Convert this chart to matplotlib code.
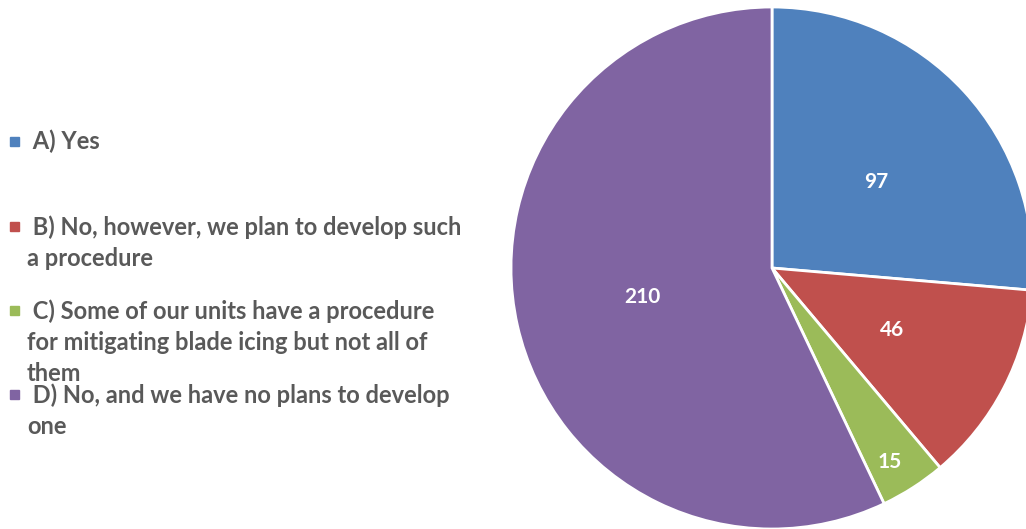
import matplotlib.pyplot as plt
from matplotlib.patches import Rectangle
import numpy as np

labels = [" A) Yes",
          " B) No, however, we plan to develop such\na procedure",
          " C) Some of our units have a procedure\nfor mitigating blade icing but not all of\nthem",
          " D) No, and we have no plans to develop\none"]
counts = [97, 46, 15, 210]
colors = ["#4F81BD", "#C0504D", "#9BBB59", "#8064A2"]

plt.rcParams['font.family'] = ['Lato', 'DejaVu Sans']

fig = plt.figure(figsize=(10.26, 5.29), dpi=100)
W, H = 1026, 529
cx, cy, r = 772, 268, 261
ax = fig.add_axes([(cx - r) / W, (H - cy - r) / H, 2 * r / W, 2 * r / H])

wedges, _ = ax.pie(counts, colors=colors, startangle=90, counterclock=False,
                   radius=1, wedgeprops=dict(edgecolor="white", linewidth=2))
ax.set_xlim(-1, 1)
ax.set_ylim(-1, 1)
ax.axis("off")

# label placement: radial distance and angle shift per wedge (degrees)
label_pos = [(0.52, -3), (0.52, 0), (0.87, -1.5), (0.51, 0)]
for w, n, (d, shift) in zip(wedges, counts, label_pos):
    ang = np.deg2rad((w.theta1 + w.theta2) / 2 + shift)
    ax.text(d * np.cos(ang), d * np.sin(ang), str(n), color="white",
            fontsize=15, fontweight="bold", ha="center", va="center")

# legend drawn by hand
entry_y = [142, 227, 311, 395]
for lab, col, y in zip(labels, colors, entry_y):
    fig.patches.append(Rectangle((10 / W, 1 - (y + 4) / H), 9 / W, 9 / H,
                                 transform=fig.transFigure, color=col))
    fig.text(27 / W, 1 - (y - 12) / H, lab, color="#595959", fontsize=17,
             fontweight="bold", ha="left", va="top", linespacing=1.42)

fig.savefig("out.png", dpi=100)
